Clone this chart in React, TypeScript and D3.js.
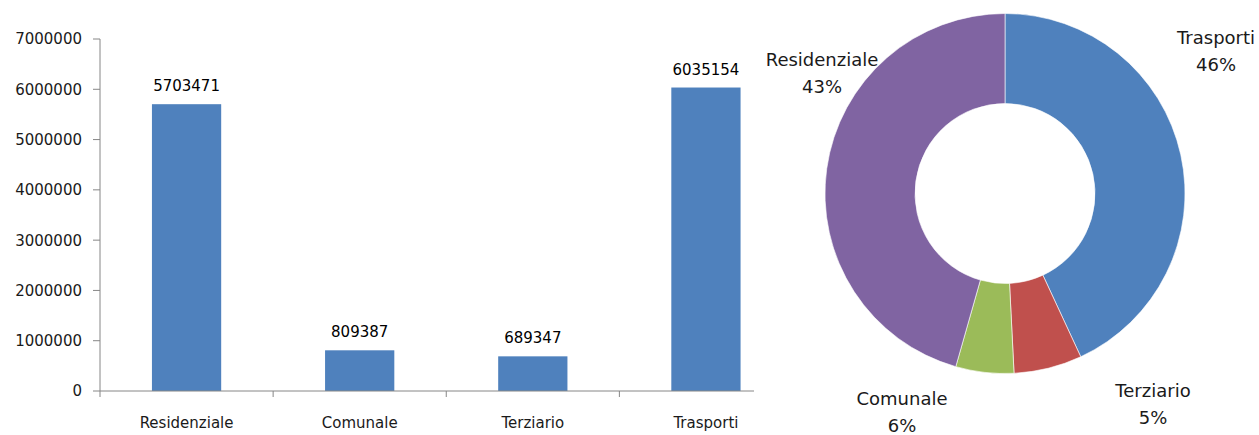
import React from "react";
import * as d3 from "d3";

const categories = ["Residenziale", "Comunale", "Terziario", "Trasporti"];
const values = [5703471, 809387, 689347, 6035154];
const yTicks = [0, 1000000, 2000000, 3000000, 4000000, 5000000, 6000000, 7000000];
const sliceColors = ["#4F81BD", "#C0504D", "#9BBB59", "#8064A2"];
// donut labels as they appear in the picture (reversed order of the slices)
const donutLabelNames = ["Trasporti", "Terziario", "Comunale", "Residenziale"];

const W = 1259;
const H = 435;
const FONT = "'DejaVu Sans', Verdana, sans-serif";

// layout
const plot = { left: 100, right: 792.5, top: 39, bottom: 391 };
const cover = 754; // donut chart box overlaps the bar chart from here
const donut = { cx: 1005, cy: 193.5, r: 180, r0: 90 };
const donutLabelPos: Record<string, { x: number; y: number }> = {
  Trasporti: { x: 1216, y: 44 },
  Terziario: { x: 1153, y: 397 },
  Comunale: { x: 902, y: 405 },
  Residenziale: { x: 822, y: 66 },
};

export default function App() {
  const x = d3
    .scaleBand<string>()
    .domain(categories)
    .range([plot.left, plot.right])
    .paddingInner(0.6)
    .paddingOuter(0.3);
  const y = d3.scaleLinear().domain([0, 7000000]).range([plot.bottom, plot.top]);
  const step = x.step();
  const boundaries = d3.range(categories.length + 1).map((i) => plot.left + i * step);

  const total = d3.sum(values);
  const pie = d3
    .pie<number>()
    .sort(null)
    .value((d) => d)
    .startAngle(0)
    .endAngle(2 * Math.PI);
  const arcs = pie(values);
  const arc = d3.arc<d3.PieArcDatum<number>>().innerRadius(donut.r0).outerRadius(donut.r);

  const axisColor = "#868686";

  return (
    <svg
      width={W}
      height={H}
      style={{ position: "absolute", left: 0, top: 0, display: "block", background: "#fff" }}
      fontFamily={FONT}
    >
      {/* y axis */}
      <line x1={plot.left} x2={plot.left} y1={plot.top} y2={plot.bottom} stroke={axisColor} strokeWidth={1} />
      {yTicks.map((t) => (
        <g key={t}>
          <line x1={plot.left - 7} x2={plot.left} y1={y(t)} y2={y(t)} stroke={axisColor} />
          <text x={plot.left - 18} y={y(t)} dy="0.36em" textAnchor="end" fontSize={15} fill="#1a1a1a">
            {t}
          </text>
        </g>
      ))}
      {/* bars */}
      {categories.map((c, i) => (
        <g key={c}>
          <rect
            x={x(c)}
            y={y(values[i])}
            width={x.bandwidth()}
            height={y(0) - y(values[i])}
            fill="#4F81BD"
          />
          <text
            x={(x(c) as number) + x.bandwidth() / 2}
            y={y(values[i]) - 13}
            textAnchor="middle"
            fontSize={15}
            fill="#000"
          >
            {values[i]}
          </text>
          <text
            x={(x(c) as number) + x.bandwidth() / 2}
            y={428}
            textAnchor="middle"
            fontSize={15}
            fill="#1a1a1a"
          >
            {c}
          </text>
        </g>
      ))}
      {/* x axis */}
      <line x1={plot.left} x2={plot.right} y1={plot.bottom} y2={plot.bottom} stroke={axisColor} />
      {boundaries.map((b, i) => (
        <line key={i} x1={b} x2={b} y1={plot.bottom} y2={plot.bottom + 6} stroke={axisColor} />
      ))}

      {/* donut chart box (white, overlapping) */}
      <rect x={cover} y={0} width={W - cover} height={H} fill="#fff" />
      <g transform={`translate(${donut.cx},${donut.cy})`}>
        {arcs.map((a, i) => (
          <path key={i} d={arc(a) as string} fill={sliceColors[i]} stroke="#fff" strokeWidth={0.6} />
        ))}
      </g>
      {donutLabelNames.map((name) => {
        const v = values[categories.indexOf(name)];
        const p = donutLabelPos[name];
        return (
          <text key={name} x={p.x} y={p.y} textAnchor="middle" fontSize={18} fill="#1a1a1a">
            <tspan x={p.x}>{name}</tspan>
            <tspan x={p.x} dy={27}>
              {Math.round((v / total) * 100)}%
            </tspan>
          </text>
        );
      })}
    </svg>
  );
}
